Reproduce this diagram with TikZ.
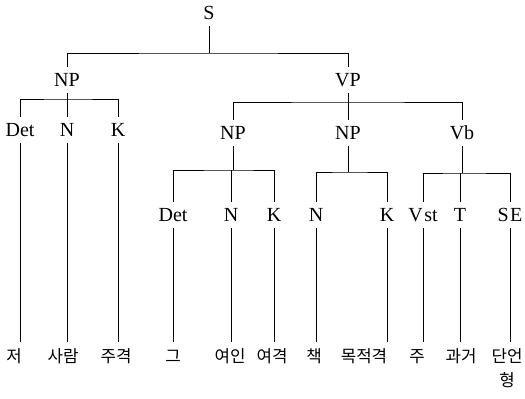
\documentclass[tikz,border=0pt]{standalone}
\usepackage{fontspec}
\newfontfamily\lab{Liberation Serif}
\newfontfamily\cjk{Noto Sans CJK KR}
\begin{document}
\begin{tikzpicture}[x=1pt,y=-1pt,
  lab/.style={inner sep=0pt, outer sep=0pt, outer ysep=6.5pt, text height=13.2pt, text depth=0pt, font=\lab\fontsize{20}{20}\selectfont},
  kor/.style={inner sep=0pt, outer sep=0pt, outer ysep=7pt, anchor=north, text height=13.5pt, text depth=1pt, font=\cjk\fontsize{16.8}{24}\selectfont},
  edge/.style={line width=1pt, black}]
\useasboundingbox (0,0) rectangle (525,399);
% labels
\node[lab] (S) at (209,13) {S};
\node[lab] (NPa) at (67,80) {NP};
\node[lab] (VP) at (348,80) {VP};
\node[lab] (Deta) at (20,130) {Det};
\node[lab] (Na) at (67,130) {N};
\node[lab] (Ka) at (118,130) {K};
\node[lab] (NPb) at (233,133) {NP};
\node[lab] (NPc) at (348,133) {NP};
\node[lab] (Vb) at (462,133) {Vb};
\node[lab] (Detb) at (173,215) {Det};
\node[lab] (Nb) at (231,215) {N};
\node[lab] (Kb) at (274,215) {K};
\node[lab] (Nc) at (316,215) {N};
\node[lab] (Kc) at (387,215) {K};
\node[lab] (Vst) at (423,215) {V\kern1.5pt st};
\node[lab] (T) at (460,215) {T};
\node[lab] (SE) at (510,215) {S\kern1.5pt E};
% words
\node[kor] (w1) at (14,342) {저};
\node[kor] (w2) at (63,342) {사람};
\node[kor] (w3) at (116,342) {주격};
\node[kor] (w4) at (173,342) {그};
\node[kor] (w5) at (230,342) {여인};
\node[kor] (w6) at (272,342) {여격};
\node[kor] (w7) at (314,342) {책};
\node[kor] (w8) at (364,342) {목적격};
\node[kor] (w9) at (417,342) {주};
\node[kor] (w10) at (461,342) {과거};
\node[kor, align=center, text height={}, text depth={}] (w11) at (507,342) {단언\\형};
% bar coordinates
\coordinate (bS) at (209,53);
\coordinate (bNPa) at (67,99);
\coordinate (bVP) at (348,102);
\coordinate (bNPb) at (233,170);
\coordinate (bNPc) at (348,172);
\coordinate (bVb) at (462,173);
% tree
\draw[edge] (S.south) -- (bS);
\draw[edge] (NPa.north) |- (bS) -| (VP.north);
\draw[edge] (NPa.south) -- (bNPa);
\draw[edge] (Deta.north) |- (bNPa) -| (Ka.north);
\draw[edge] (Na.north) -- (bNPa);
\draw[edge] (VP.south) -- (bVP);
\draw[edge] (NPb.north) |- (bVP) -| (Vb.north);
\draw[edge] (NPc.north) -- (bVP);
\draw[edge] (NPb.south) -- (bNPb);
\draw[edge] (Detb.north) |- (bNPb) -| (Kb.north);
\draw[edge] (Nb.north) -- (Nb.north |- bNPb);
\draw[edge] (NPc.south) -- (bNPc);
\draw[edge] (Nc.north) |- (bNPc) -| (Kc.north);
\draw[edge] (Vb.south) -- (bVb);
\draw[edge] (Vst.north) |- (bVb) -| (SE.north);
\draw[edge] (T.north) -- (T.north |- bVb);
% leaves
\draw[edge] (Deta.south) -- (Deta.south |- w1.north);
\draw[edge] (Na.south) -- (Na.south |- w2.north);
\draw[edge] (Ka.south) -- (Ka.south |- w3.north);
\draw[edge] (Detb.south) -- (Detb.south |- w4.north);
\draw[edge] (Nb.south) -- (Nb.south |- w5.north);
\draw[edge] (Kb.south) -- (Kb.south |- w6.north);
\draw[edge] (Nc.south) -- (Nc.south |- w7.north);
\draw[edge] (Kc.south) -- (Kc.south |- w8.north);
\draw[edge] (Vst.south) -- (Vst.south |- w9.north);
\draw[edge] (T.south) -- (T.south |- w10.north);
\draw[edge] (SE.south) -- (SE.south |- w11.north);
\end{tikzpicture}
\end{document}
